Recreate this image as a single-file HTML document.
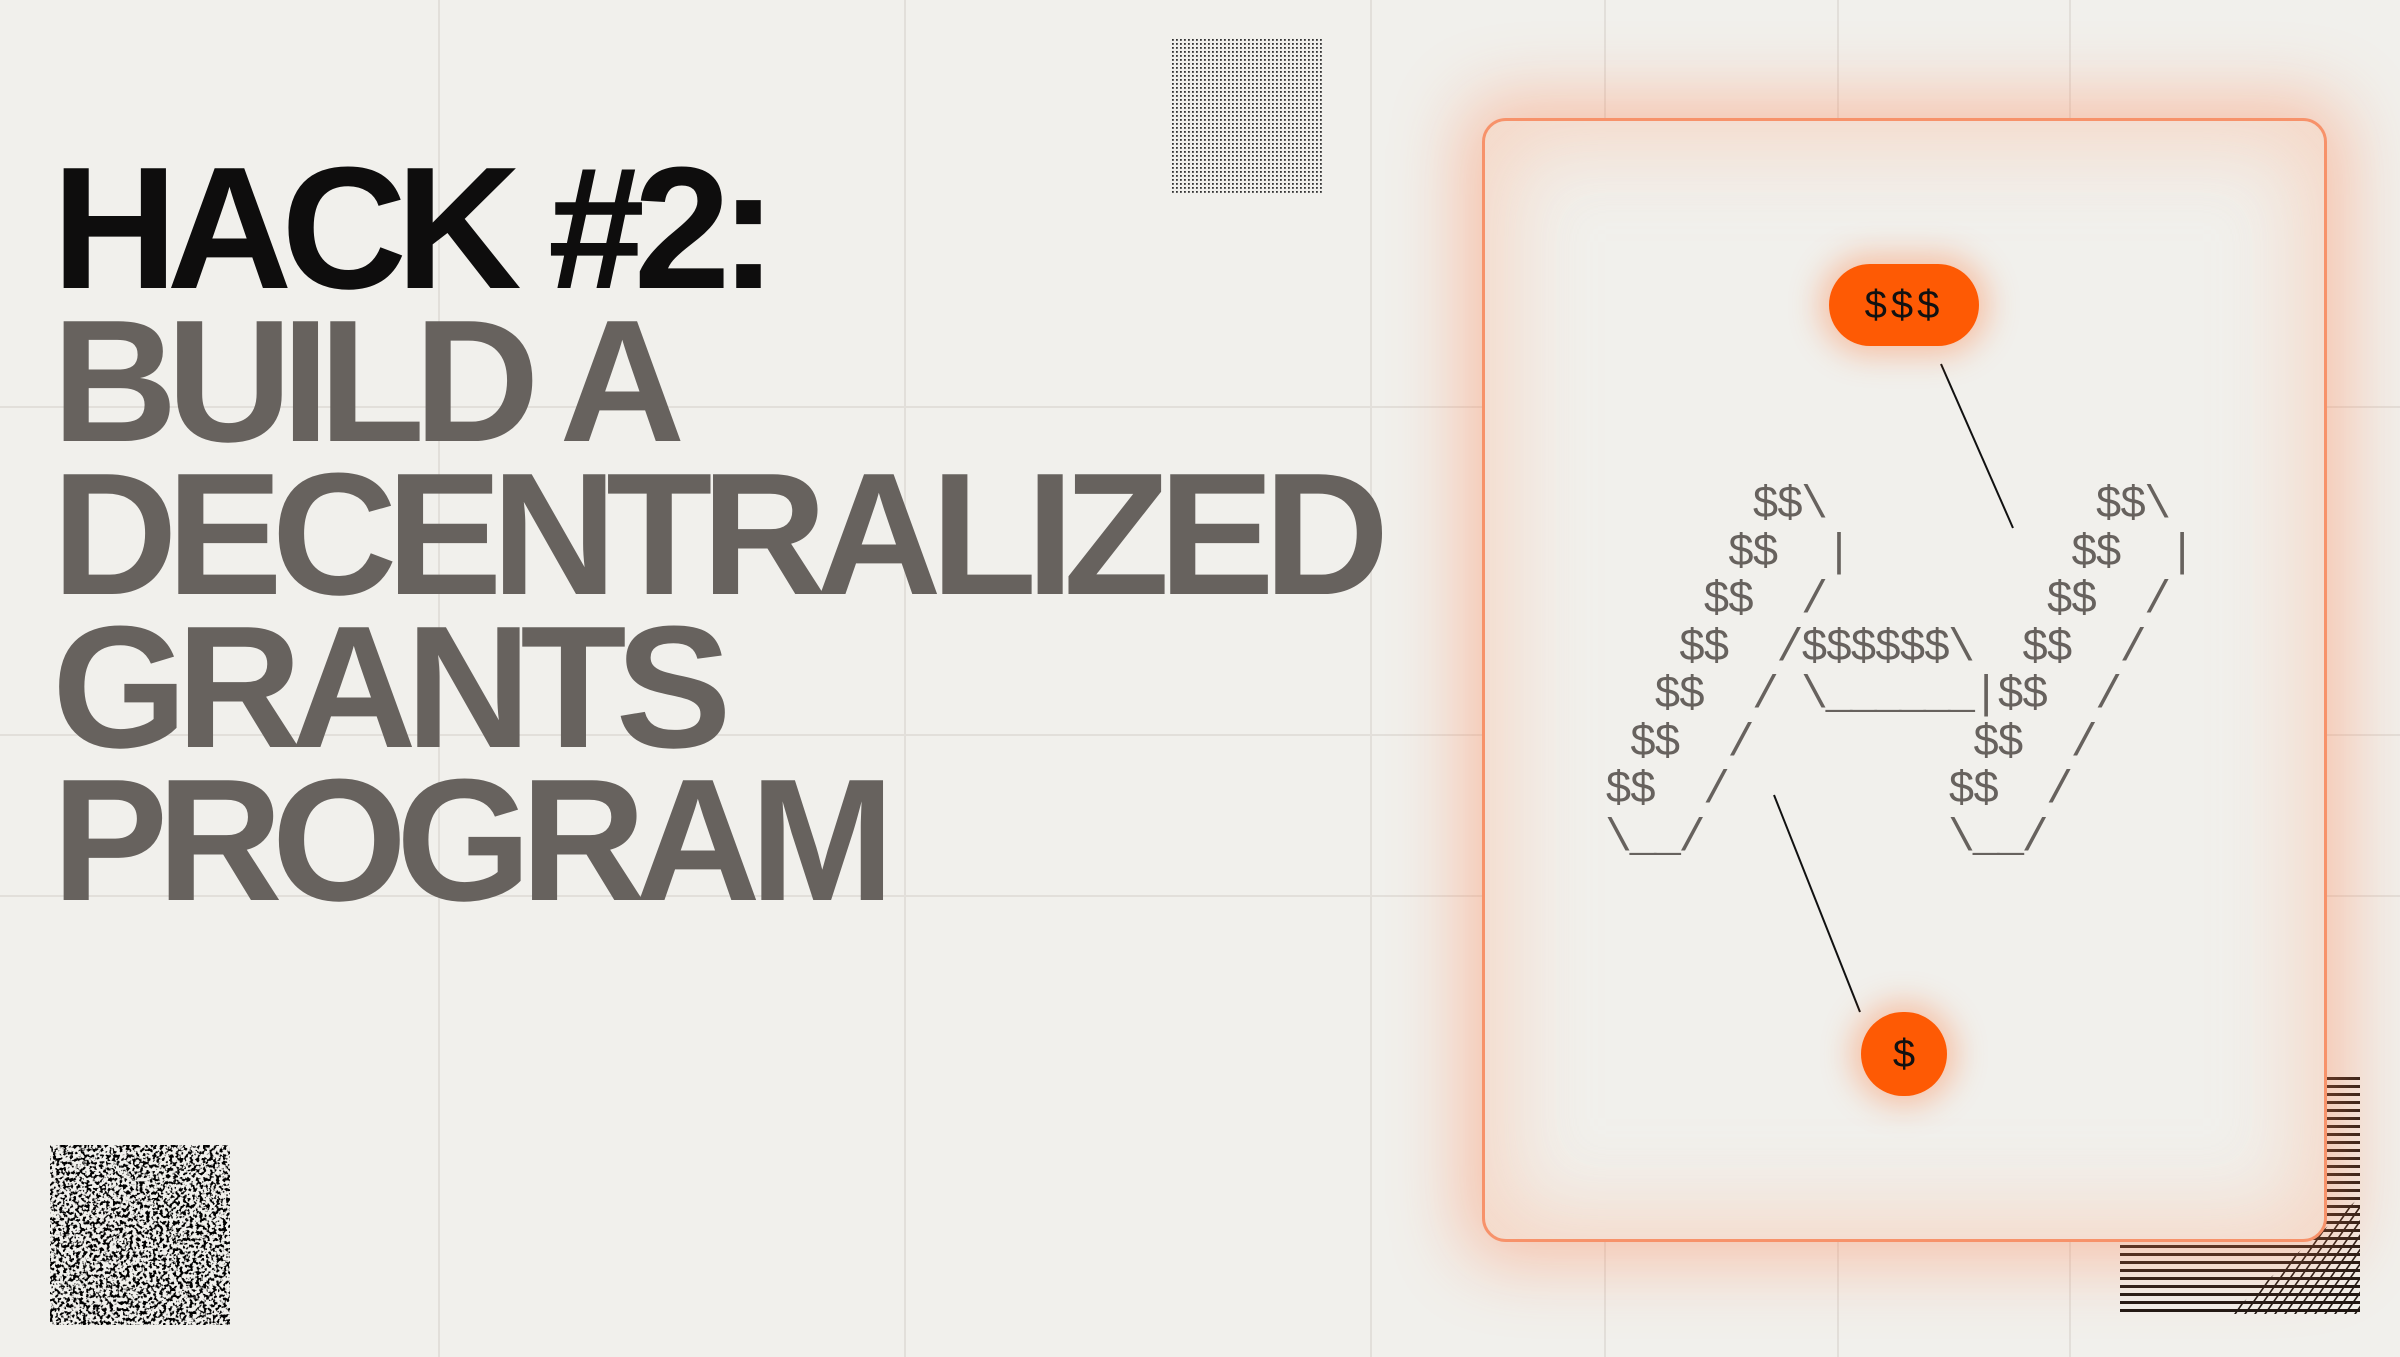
<!DOCTYPE html>
<html><head><meta charset="utf-8"><style>
html,body{margin:0;padding:0}
body{width:2400px;height:1357px;background:#f1f0ec;position:relative;overflow:hidden;font-family:"Liberation Sans",sans-serif}
.v{position:absolute;top:0;width:2px;height:1357px;background:#e2dfda}
.h{position:absolute;left:0;height:2px;width:2400px;background:#e2dfda}
.title{position:absolute;left:52px;top:151px;font-weight:bold;font-size:174px;line-height:153px;letter-spacing:-11px;color:#67625e;white-space:pre}
.title .b{color:#0e0d0d}
.card{position:absolute;left:1482px;top:118px;width:845px;height:1124px;box-sizing:border-box;border:3px solid #f7926a;border-radius:24px;background:#f1f0ec;
box-shadow:0 0 70px 20px rgba(255,130,80,0.42),inset 0 0 80px 25px rgba(248,200,175,0.6)}
pre.art{position:absolute;left:1605px;top:482px;margin:0;font-family:"Liberation Mono",monospace;font-size:45px;line-height:47.5px;color:#67625e;letter-spacing:-2.5px}
.pill{position:absolute;background:#fe5a04;color:#111;font-family:"Liberation Sans",sans-serif;text-align:center;box-shadow:0 0 30px 10px rgba(255,110,40,0.35)}
</style></head><body>
<div class="v" style="left:438px"></div>
<div class="v" style="left:904px"></div>
<div class="v" style="left:1370px"></div>
<div class="v" style="left:1604px"></div>
<div class="v" style="left:1837px"></div>
<div class="v" style="left:2069px"></div>
<div class="h" style="top:406px"></div>
<div class="h" style="top:734px"></div>
<div class="h" style="top:895px"></div>

<svg style="position:absolute;left:1171px;top:38px" width="153" height="156">
<defs><pattern id="dp" width="4" height="4" patternUnits="userSpaceOnUse"><rect x="1" y="1" width="1.8" height="1.8" fill="#333"/></pattern></defs>
<rect width="153" height="156" fill="url(#dp)"/>
</svg>

<svg style="position:absolute;left:50px;top:1145px" width="180" height="180">
<defs><filter id="nz" x="0" y="0" width="100%" height="100%">
<feTurbulence type="fractalNoise" baseFrequency="0.3" numOctaves="2" seed="7"/>
<feColorMatrix type="matrix" values="0 0 0 0 0  0 0 0 0 0  0 0 0 0 0  0 0 0 -9 4.6"/>
</filter></defs>
<rect width="180" height="180" fill="#f1f0ec"/>
<rect width="180" height="180" filter="url(#nz)"/>
</svg>

<svg style="position:absolute;left:2120px;top:1077px" width="240" height="237">
<defs><pattern id="hl" width="8" height="8" patternUnits="userSpaceOnUse"><rect x="0" y="0" width="8" height="3" fill="#1d1612"/></pattern>
<pattern id="dg" width="10" height="10" patternUnits="userSpaceOnUse" patternTransform="skewX(-35)"><rect x="0" y="0" width="2" height="10" fill="#1d1612"/></pattern></defs>
<rect width="240" height="237" fill="url(#hl)"/>
<polygon points="240,120 240,237 110,237" fill="url(#dg)"/>
</svg>

<div class="title"><span class="b">HACK #2:</span>
BUILD A
DECENTRALIZED
GRANTS
PROGRAM</div>

<div class="card"></div>

<svg style="position:absolute;left:0;top:0" width="2400" height="1357">
<line x1="1941" y1="364" x2="2013" y2="528" stroke="#111" stroke-width="2"/>
<line x1="1774" y1="795" x2="1860" y2="1012" stroke="#111" stroke-width="2"/>
</svg>

<pre class="art">      $$\           $$\
     $$  |         $$  |
    $$  /         $$  /
   $$  /$$$$$$\  $$  /
  $$  / \______|$$  /
 $$  /         $$  /
$$  /         $$  /
\__/          \__/</pre>

<div class="pill" style="left:1829px;top:264px;width:150px;height:82px;border-radius:41px;font-size:40px;line-height:82px;letter-spacing:4px">$$$</div>
<div class="pill" style="left:1861px;top:1012px;width:86px;height:84px;border-radius:43px;font-size:40px;line-height:84px">$</div>
</body></html>
